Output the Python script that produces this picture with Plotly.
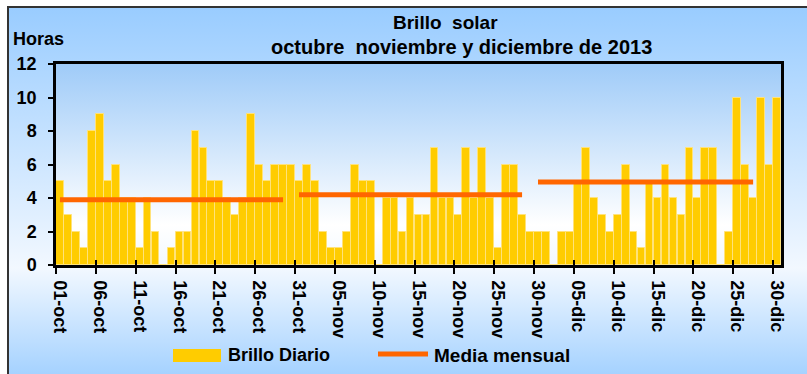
import base64

import pandas as pd
import plotly.graph_objects as go

# ---- data -----------------------------------------------------------------
MESES = {10: "oct", 11: "nov", 12: "dic"}
fechas = pd.date_range("2013-10-01", "2013-12-30", freq="D")
dias = [f"{d.day:02d}-{MESES[d.month]}" for d in fechas]

brillo_oct = [5, 3, 2, 1, 8, 9, 5, 6, 4, 4, 1, 4, 2, 0, 1, 2, 2, 8, 7, 5,
              5, 4, 3, 4, 9, 6, 5, 6, 6, 6, 5]
brillo_nov = [6, 5, 2, 1, 1, 2, 6, 5, 5, 0, 4, 4, 2, 4, 3, 3, 7, 4, 4, 3,
              7, 4, 7, 4, 1, 6, 6, 3, 2, 2]
brillo_dic = [2, 0, 2, 2, 5, 7, 4, 3, 2, 3, 6, 2, 1, 5, 4, 6, 4, 3, 7, 4,
              7, 7, 0, 2, 10, 6, 4, 10, 6, 10]
brillo_diario = brillo_oct + brillo_nov + brillo_dic

media_mensual = [3.9, 4.2, 4.95]
tramos_media = [("01-oct", "29-oct"), ("31-oct", "28-nov"), ("30-nov", "27-dic")]

etiquetas_x = dias[::5]
y_ticks = [0, 2, 4, 6, 8, 10, 12]

# ---- derived series ---------------------------------------------------------
pos = list(range(len(dias)))
media = [None] * len(dias)
for valor, (ini, fin) in zip(media_mensual, tramos_media):
    for i in range(dias.index(ini), dias.index(fin) + 1):
        media[i] = valor

tick_pos = [dias.index(t) - 0.5 for t in etiquetas_x]

# ---- geometry of the figure -----------------------------------------------
W, H = 807, 374
ML, MR, MT, MB = 56, 26, 64, 109
PW, PH = W - ML - MR, H - MT - MB


def px(x):
    return (x - ML) / PW


def py(y):
    return (H - MB - y) / PH


FONT = "Arial, 'Liberation Sans', sans-serif"

# background: chart area and plot area gradients
svg = f"""<svg xmlns='http://www.w3.org/2000/svg' width='{W}' height='{H}' viewBox='0 0 {W} {H}' preserveAspectRatio='none'>
<defs>
<linearGradient id='g1' x1='0' y1='0' x2='0' y2='1'>
<stop offset='0' stop-color='#99CCFF'/>
<stop offset='0.68' stop-color='#F2F8FF'/>
<stop offset='1' stop-color='#99CCFF'/>
</linearGradient>
<linearGradient id='g2' x1='0' y1='0' x2='0' y2='1'>
<stop offset='0' stop-color='#9FCBF8'/>
<stop offset='0.8' stop-color='#FFFFFF'/>
<stop offset='1' stop-color='#F2F8FF'/>
</linearGradient>
</defs>
<rect x='0' y='0' width='{W}' height='{H}' fill='#FFFFFF'/>
<rect x='8' y='7' width='{W + 10}' height='{H + 10}' fill='url(#g1)' stroke='#333333' stroke-width='2'/>
<rect x='{ML}' y='{MT}' width='{PW}' height='{PH}' fill='url(#g2)'/>
</svg>"""
bg_src = "data:image/svg+xml;base64," + base64.b64encode(svg.encode()).decode()

fig = go.Figure()
fig.add_trace(go.Bar(
    x=pos, y=brillo_diario, name="Brillo Diario",
    customdata=dias, hovertemplate="%{customdata}: %{y}<extra></extra>",
    marker=dict(color="#FFCC00", line=dict(color="#FFE27A", width=1)),
    width=0.97,
))
fig.add_trace(go.Scatter(
    x=pos, y=media, name="Media mensual", mode="lines",
    line=dict(color="#FF6600", width=5), connectgaps=False,
    customdata=dias, hovertemplate="%{customdata}: %{y}<extra></extra>",
))
# carrier for the inner half of the crossing x ticks
fig.add_trace(go.Scatter(x=[], y=[], xaxis="x2", showlegend=False, hoverinfo="skip"))

axis_font = dict(family=FONT, size=18, color="black", weight="bold")

fig.update_layout(
    width=W, height=H, autosize=False,
    margin=dict(l=ML, r=MR, t=MT, b=MB, pad=0),
    paper_bgcolor="white", plot_bgcolor="rgba(0,0,0,0)",
    showlegend=False, bargap=0,
    xaxis=dict(
        range=[-0.5, len(dias) - 0.5], tickmode="array",
        tickvals=tick_pos, ticktext=etiquetas_x, tickangle=90,
        ticklabelshift=4, ticklabelstandoff=3, ticks="outside", ticklen=6,
        tickwidth=2, tickcolor="black", tickfont=axis_font, showline=True,
        linecolor="black", linewidth=2.5, mirror=True,
        showgrid=False, zeroline=False,
    ),
    xaxis2=dict(
        overlaying="x", anchor="y", side="bottom",
        range=[-0.5, len(dias) - 0.5], tickmode="array",
        tickvals=tick_pos, ticks="inside", ticklen=5, tickwidth=2,
        tickcolor="black", showticklabels=False, showline=False,
        showgrid=False, zeroline=False,
    ),
    yaxis=dict(
        range=[0, 12], tickmode="array", tickvals=y_ticks,
        ticks="outside", ticklen=5, tickwidth=2, tickcolor="black",
        tickfont=axis_font, ticklabelstandoff=8, showline=True,
        linecolor="black", linewidth=2.5, mirror=True,
        showgrid=False, zeroline=False,
    ),
    images=[dict(
        source=bg_src, xref="paper", yref="paper",
        x=px(0), y=py(0), sizex=W / PW, sizey=H / PH,
        xanchor="left", yanchor="top", sizing="stretch", layer="below",
    )],
)


def texto(txt, x, y, font, xanchor="center"):
    fig.add_annotation(text=txt, x=px(x), y=py(y), xref="paper", yref="paper",
                       xanchor=xanchor, yanchor="middle", showarrow=False,
                       font=font)


title_font = dict(family=FONT, size=19, color="black", weight="bold")
texto("Brillo\u00a0\u00a0solar", 445, 22, title_font)
texto("octubre\u00a0\u00a0noviembre y diciembre de 2013", 461, 47,
      dict(title_font, size=20))
texto("Horas", 11, 39, axis_font, xanchor="left")

# legend drawn underneath the axis
fig.add_shape(type="rect", xref="paper", yref="paper",
              x0=px(173), x1=px(221), y0=py(362), y1=py(349),
              fillcolor="#FFCC00", line=dict(width=0))
texto("Brillo Diario", 226, 355, axis_font, xanchor="left")
fig.add_shape(type="line", xref="paper", yref="paper",
              x0=px(378), x1=px(428), y0=py(354), y1=py(354),
              line=dict(color="#FF6600", width=5))
texto("Media mensual", 432, 355, dict(axis_font, size=19), xanchor="left")

fig.write_html("out.html")
